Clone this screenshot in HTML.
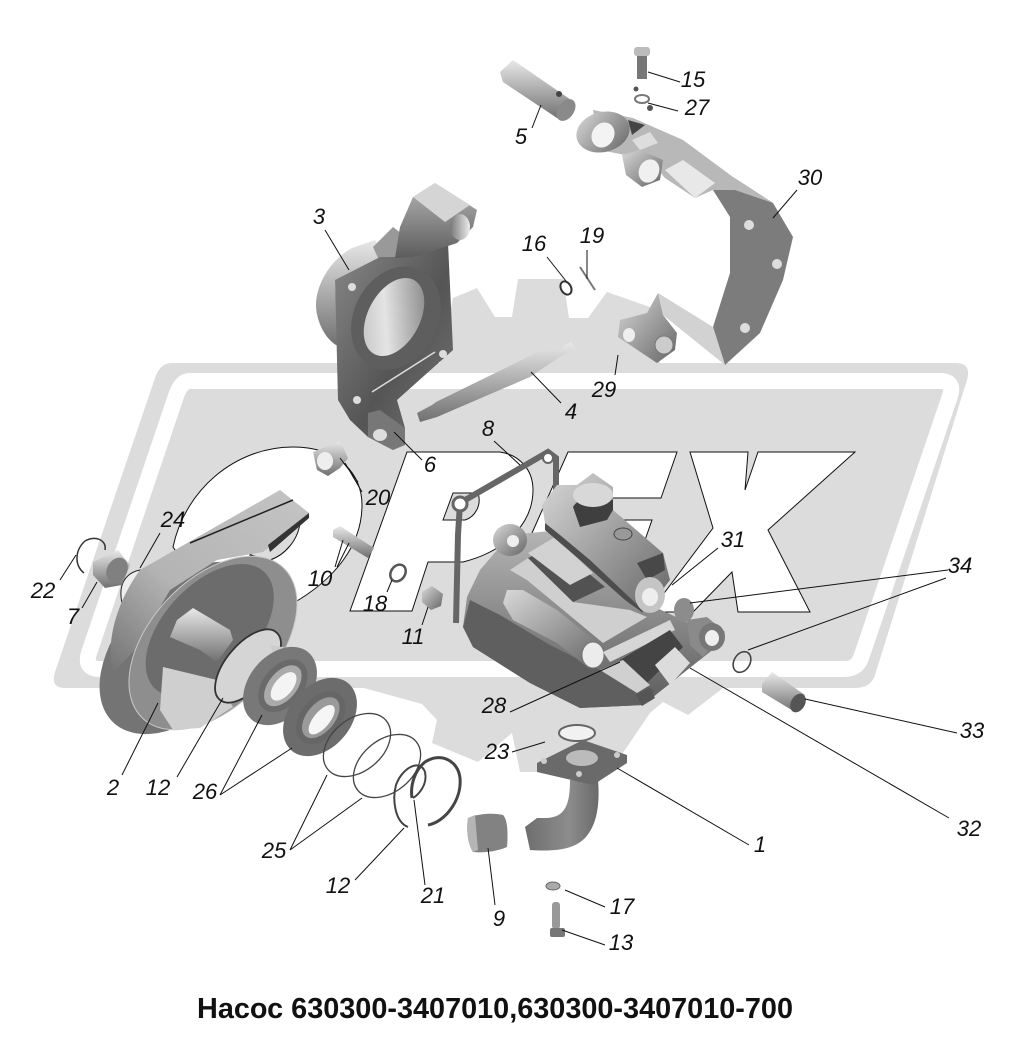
<!DOCTYPE html>
<html><head><meta charset="utf-8">
<style>html,body{margin:0;padding:0;background:#fff;width:1020px;height:1051px;overflow:hidden}svg{display:block}
text{font-family:"Liberation Sans",sans-serif;font-style:italic;font-size:22px;fill:#111;text-anchor:middle}
.t{font-style:normal;font-weight:bold;font-size:29px;text-anchor:start}
.l{stroke:#111;stroke-width:1;fill:none}</style></head><body>
<svg width="1020" height="1051" viewBox="0 0 1020 1051" xmlns="http://www.w3.org/2000/svg">
<defs>
<linearGradient id="a" x1="0" y1="0" x2="1" y2="1"><stop offset="0" stop-color="#d8d8d8"/><stop offset="1" stop-color="#666"/></linearGradient>
<linearGradient id="b" x1="0" y1="1" x2="1" y2="0"><stop offset="0" stop-color="#555"/><stop offset="1" stop-color="#ddd"/></linearGradient>
<linearGradient id="c" x1="0" y1="0" x2="0" y2="1"><stop offset="0" stop-color="#e8e8e8"/><stop offset="1" stop-color="#707070"/></linearGradient>
<linearGradient id="d" x1="0" y1="0" x2="1" y2="0"><stop offset="0" stop-color="#777"/><stop offset="1" stop-color="#ededed"/></linearGradient>
<linearGradient id="e" x1="0" y1="0" x2="1" y2="1"><stop offset="0" stop-color="#888"/><stop offset=".55" stop-color="#555"/><stop offset="1" stop-color="#777"/></linearGradient>
<linearGradient id="f" x1="0" y1="0" x2="0" y2="1"><stop offset="0" stop-color="#b5b5b5"/><stop offset="1" stop-color="#5c5c5c"/></linearGradient>
<linearGradient id="g" x1="1" y1="0" x2="0" y2="1"><stop offset="0" stop-color="#777"/><stop offset=".6" stop-color="#e4e4e4"/><stop offset="1" stop-color="#bbb"/></linearGradient>
<linearGradient id="h" x1="1" y1="0" x2="0" y2="1"><stop offset="0" stop-color="#c4c4c4"/><stop offset=".6" stop-color="#b4b4b4"/><stop offset="1" stop-color="#747474"/></linearGradient>
<linearGradient id="i" x1="0" y1="0" x2="1" y2="0"><stop offset="0" stop-color="#6e6e6e"/><stop offset=".6" stop-color="#8c8c8c"/><stop offset="1" stop-color="#6a6a6a"/></linearGradient>
</defs>
<!-- watermark -->
<g fill="#dcdcdc">
<path d="M453 298L477 288L495 317H512L518 279H563L569 318H588L607 292L650 307L660 363H440Z"/>
<path d="M353 685L422 704L437 720L432 743L478 762L512 733L520 772L610 772L650 713L663 702L688 715L723 688Z"/>
<path d="M172 363H955Q972 363 967 380L875 675Q871 688 855 688H65Q50 688 55 672L155 378Q160 363 172 363Z"/>
</g>
<path d="M190 381H940Q955 381 950 396L862 655Q858 669 845 669H100Q84 669 89 653L176 396Q181 381 190 381Z" fill="none" stroke="#fff" stroke-width="16"/>
<!-- letters -->
<g fill="#fff" stroke="#111" stroke-width="1">
<path d="M173 547C185 490 235 447 293 447C340 447 362 475 362 505C362 545 335 580 290 605L210 600Z"/>
<path d="M407 452H500C520 455 533 470 533 490C533 520 510 550 463 562H428L412 611H350Z"/>
<path d="M568 452H677L661 498H617L560 498L600 520H652L638 560H520Z"/>
<path d="M690 452H748L745 490L758 452H855L768 530L810 612H738L732 572L693 612H650L713 528Z"/>
</g>
<path d="M443 520L453 493H478C482 505 475 517 465 520Z" fill="#dcdcdc" stroke="#111" stroke-width="1"/>
<path d="M300 523C298 540 285 555 270 560L250 555L295 520Z" fill="#dcdcdc" stroke="#111" stroke-width="1"/>
<path d="M140 570C125 573 118 585 122 603L135 600Z" fill="#eee" stroke="#222" stroke-width="1"/>
<!-- rear cover -->
<g transform="rotate(-47 183 648)"><ellipse cx="183" cy="648" rx="102" ry="63" fill="#747474"/></g>
<path d="M140 570L280 490L309 513L308 518L263 552L217 560L170 590L135 650L113 672C105 640 118 600 140 570Z" fill="url(#h)"/>
<path d="M190 543L293 500" stroke="#222" stroke-width="1.5" fill="none"/>
<path d="M268 545L309 513V518L270 552Z" fill="#333"/>
<g transform="rotate(-47 213 643)">
<ellipse cx="213" cy="643" rx="103" ry="63" fill="#8e8e8e" stroke="#c8c8c8" stroke-width="1"/>
<ellipse cx="220" cy="632" rx="80" ry="46" fill="#6c6c6c"/>
</g>
<path d="M163 667L217 680L233 707L200 728L173 730L160 710Z" fill="#cfcfcf"/>
<path d="M177 620L193 608L230 630L233 640L217 662L200 650L170 637Z" fill="url(#c)"/>
<!-- bushing, spring -->
<path d="M93 562L118 550L130 565L122 585L105 588L93 575Z" fill="url(#c)"/><ellipse cx="117" cy="570" rx="10" ry="13" transform="rotate(30 117 570)" fill="#808080"/>
<path d="M84 573C74 565 75 550 85 541C95 535 107 540 105 550" fill="none" stroke="#333" stroke-width="1.5"/>
<!-- ring 12, bearings -->
<ellipse cx="248" cy="666" rx="44" ry="22" transform="rotate(-50 248 666)" fill="#d5d5d5" stroke="#333" stroke-width="1.8"/>
<path d="M270 645L300 650L317 672L300 690L280 670Z" fill="#ccc"/>
<g transform="rotate(-50 280 686)"><ellipse cx="280" cy="686" rx="44" ry="31" fill="#787878"/><ellipse cx="282" cy="688" rx="30" ry="20" fill="#6a6a6a"/><ellipse cx="282" cy="688" rx="24" ry="14" fill="#aaa"/><ellipse cx="282" cy="689" rx="17" ry="9" fill="#f4f4f4"/></g>
<g transform="rotate(-50 320 717)"><ellipse cx="320" cy="717" rx="44" ry="31" fill="#6c6c6c"/><ellipse cx="320" cy="718" rx="30" ry="20" fill="#666"/><ellipse cx="320" cy="718" rx="24" ry="14" fill="#9a9a9a"/><ellipse cx="319" cy="720" rx="18" ry="8" fill="#f6f6f6"/></g>
<!-- rings -->
<g fill="none" stroke="#444" stroke-width="1.3">
<ellipse cx="357" cy="745" rx="38" ry="26" transform="rotate(-40 357 745)"/>
<ellipse cx="387" cy="766" rx="38" ry="26" transform="rotate(-40 387 766)"/>
</g>
<path d="M408 827C395 822 392 800 396 785C402 768 420 758 425 772C428 785 418 795 413 798" fill="none" stroke="#444" stroke-width="2"/>
<path d="M428 825C445 822 462 800 460 778C458 760 440 752 425 762C415 770 410 785 412 798" fill="none" stroke="#444" stroke-width="3"/>
<!-- bracket 3 -->
<path d="M338 346C325 340 316 320 316 305C316 285 330 260 352 248L375 240L385 258L335 282Z" fill="url(#c)"/>
<path d="M373 247L393 227L410 240L400 258H378Z" fill="#999"/>
<path d="M335 280L380 257L415 257L448 243L453 350L397 400L405 428L393 450L368 437L350 420L338 400Z" fill="url(#e)"/>
<path d="M400 227L413 197L435 183L477 210L473 227L457 243L415 257L395 258Z" fill="url(#f)"/>
<path d="M413 197L435 183L470 205L445 222Z" fill="#d5d5d5"/>
<ellipse cx="460" cy="227" rx="10" ry="13" fill="url(#d)"/>
<ellipse cx="396" cy="318" rx="42" ry="54" transform="rotate(28 396 318)" fill="#5e5e5e"/>
<ellipse cx="394" cy="317" rx="26" ry="42" transform="rotate(28 394 317)" fill="url(#g)"/>
<circle cx="352" cy="287" r="4" fill="#ddd"/><circle cx="443" cy="354" r="4" fill="#ddd"/><circle cx="357" cy="400" r="4" fill="#ddd"/>
<path d="M372 392L435 352" stroke="#ddd" stroke-width="1.5"/>
<path d="M368 413L380 410L405 428L405 445L393 450L368 437Z" fill="#777"/><ellipse cx="380" cy="435" rx="7" ry="6" fill="#ddd"/>
<!-- pin 5 -->
<path d="M500 72L513 60L574 102L560 120L503 82Z" fill="url(#c)"/><ellipse cx="566" cy="110" rx="8" ry="12" transform="rotate(35 566 110)" fill="#8a8a8a"/>
<circle cx="559" cy="94" r="3" fill="#444"/>
<!-- bolt 15, washer 27 -->
<rect x="637" y="55" width="10" height="24" fill="#777"/><rect x="634" y="47" width="16" height="9" rx="3" fill="#bbb"/>
<ellipse cx="642" cy="99" rx="7" ry="4" fill="none" stroke="#777" stroke-width="2"/><circle cx="636" cy="89" r="2.5" fill="#555"/><circle cx="650" cy="108" r="3" fill="#555"/>
<!-- bracket 30 -->
<path d="M733 177L773 203L793 237L783 280L760 333L725 365L713 327L730 273L730 217L713 190Z" fill="#7c7c7c"/>
<path d="M593 110L633 118L683 140L733 177L773 203L735 190L713 190L695 198L665 178L650 160L625 155L600 150Z" fill="#b8b8b8"/>
<ellipse cx="603" cy="132" rx="27" ry="20" transform="rotate(-15 603 132)" fill="url(#a)"/><ellipse cx="603" cy="135" rx="11" ry="13" transform="rotate(30 603 135)" fill="#f3f3f3"/>
<path d="M622 155L640 150L663 160L660 180L642 187L626 175Z" fill="url(#a)"/><ellipse cx="649" cy="171" rx="10" ry="12" transform="rotate(25 649 171)" fill="#f0f0f0"/>
<path d="M665 170L683 160L715 183L695 198Z" fill="#e8e8e8"/><path d="M632 140L650 132L658 143L640 150Z" fill="#ddd"/>
<path d="M628 120L645 125L632 135Z" fill="#444"/>
<circle cx="749" cy="225" r="5" fill="#ddd"/><circle cx="777" cy="264" r="5" fill="#ddd"/><circle cx="745" cy="328" r="5" fill="#ddd"/>
<path d="M658 293L713 327L725 365L663 315Z" fill="#d2d2d2"/>
<path d="M620 320L647 313L658 293L663 315L677 333L675 350L657 363L618 337Z" fill="url(#a)"/>
<ellipse cx="629" cy="335" rx="6" ry="7" fill="#eee"/><ellipse cx="664" cy="345" rx="9" ry="9" fill="#ccc" stroke="#777"/>
<!-- 16 19 4 -->
<ellipse cx="566" cy="288" rx="5" ry="7" transform="rotate(-30 566 288)" fill="#fff" stroke="#333" stroke-width="2"/>
<path d="M580 267L595 290" stroke="#777" stroke-width="2"/>
<path d="M417 413L432 405L436 402L542 350L555 351L571 342L576 348L558 358L530 377L437 417L420 422Z" fill="url(#c)"/>
<!-- nut pin ring nut -->
<path d="M313 452L340 441L348 458L340 468L328 476L317 470Z" fill="url(#c)"/><ellipse cx="325" cy="461" rx="8" ry="9" fill="#eee"/>
<path d="M333 530L340 526L374 548L368 558L333 537Z" fill="url(#c)"/>
<ellipse cx="398" cy="573" rx="7" ry="9" transform="rotate(35 398 573)" fill="#fff" stroke="#555" stroke-width="2.5"/>
<path d="M422 592L432 586L443 594L441 606L431 610L422 602Z" fill="url(#a)"/>
<!-- gasket -->
<path d="M460 503L548 452L556 458V495M460 503L458 535L456 623" fill="none" stroke="#666" stroke-width="6"/>
<ellipse cx="460" cy="504" rx="7" ry="7" fill="#fff" stroke="#666" stroke-width="3"/><circle cx="548" cy="458" r="5" fill="#fff" stroke="#666" stroke-width="2"/>
<!-- pump body -->
<path d="M467 597L480 570L510 535L560 530L640 600L725 640L643 705L580 708L530 683L473 647L463 627Z" fill="url(#f)"/>
<path d="M463 627L473 647L530 683L580 708L643 705L655 690L600 670L550 645L500 615L470 600Z" fill="#5f5f5f"/>
<!-- plate -->
<path d="M510 570L528 558L573 602L630 610L647 617L603 643L527 580Z" fill="#cfcfcf"/>
<path d="M528 558L573 602L605 587L593 577L555 545Z" fill="#525252"/>
<path d="M528 553L555 537L593 573L570 585Z" fill="#d2d2d2"/>
<!-- lug -->
<ellipse cx="510" cy="540" rx="17" ry="16" fill="url(#a)"/><circle cx="513" cy="541" r="6" fill="#eee"/>
<!-- valve cylinder -->
<path d="M545 523L575 527L640 600L643 613L625 600L580 560L545 530Z" fill="#4d4d4d"/>
<path d="M542 505L557 485L577 485L593 473L613 487L613 510L663 553L670 580L645 612L590 560L560 535L545 523Z" fill="url(#a)"/>
<path d="M573 507C580 495 605 490 613 500L613 510L607 520L580 527Z" fill="#3f3f3f"/>
<ellipse cx="593" cy="495" rx="20" ry="12" fill="#d8d8d8"/>
<ellipse cx="623" cy="534" rx="9" ry="6" fill="#999" stroke="#444"/>
<path d="M637 563L663 553L665 570L647 580Z" fill="#484848"/>
<ellipse cx="650" cy="595" rx="15" ry="18" fill="#c5c5c5"/><ellipse cx="650" cy="597" rx="8" ry="9" fill="#eee"/>
<ellipse cx="684" cy="610" rx="10" ry="12" fill="#8c8c8c"/>
<!-- left stepped tube -->
<path d="M503 603L507 590L523 590L557 610L603 647L587 667L557 643L513 620Z" fill="url(#a)"/>
<ellipse cx="593" cy="655" rx="11" ry="13" fill="#ececec" stroke="#777"/>
<!-- lower bar, tubes -->
<path d="M603 652L670 620L675 630L610 662Z" fill="#d6d6d6"/>
<path d="M620 660L670 630L683 647L643 687Z" fill="#444"/>
<path d="M600 670L623 660L650 685L637 693Z" fill="#d0d0d0"/>
<path d="M655 665L675 647L690 663L670 685Z" fill="#dcdcdc"/>
<path d="M636 695L650 688L655 698L642 706Z" fill="#555"/>
<path d="M687 620L707 617L725 632L703 657L690 645Z" fill="#8a8a8a"/>
<ellipse cx="712" cy="637" rx="13" ry="14" fill="#777"/><ellipse cx="712" cy="638" rx="7" ry="8" fill="#eee"/>
<!-- small parts bottom right -->
<ellipse cx="742" cy="662" rx="8" ry="11" transform="rotate(30 742 662)" fill="none" stroke="#444" stroke-width="1.6"/>
<path d="M762 684L772 672L805 695L795 712L762 692Z" fill="url(#c)"/><ellipse cx="798" cy="703" rx="7" ry="10" transform="rotate(30 798 703)" fill="#555"/>
<ellipse cx="577" cy="733" rx="18" ry="8" fill="#fff" fill-opacity=".6" stroke="#666" stroke-width="2"/>
<!-- elbow -->
<path d="M570 780C570 805 565 818 545 818L537 818L525 827L530 850C560 852 575 848 585 838C597 825 600 805 598 780Z" fill="url(#i)"/>
<path d="M537 763L583 740L627 755V763L593 785L537 772Z" fill="#6a6a6a"/><ellipse cx="582" cy="758" rx="16" ry="8" fill="#bbb"/>
<circle cx="544" cy="761" r="3" fill="#ccc"/><circle cx="617" cy="755" r="3" fill="#ccc"/><circle cx="579" cy="774" r="3" fill="#ccc"/>
<!-- bushing 9 -->
<path d="M468 818C480 813 495 813 503 815C508 820 508 835 507 847C495 852 483 853 473 852C468 845 466 830 468 818Z" fill="#828282"/>
<path d="M468 818L475 815L478 850L473 852C468 845 466 830 468 818Z" fill="#b5b5b5"/>
<ellipse cx="553" cy="886" rx="7" ry="4" fill="#aaa" stroke="#666"/>
<rect x="552" y="902" width="8" height="27" rx="3" fill="#999"/><rect x="550" y="928" width="15" height="9" rx="2" fill="#777"/>
<!-- leader lines -->
<g class="l">
<path d="M648 72L680 82M648 103L678 111M541 105L532 128M773 218L797 190M325 230L349 270M547 257L566 281M587 250V279M618 355L615 375M531 372L561 403M394 432L422 460M494 441L520 465M345 463L362 492M340 458L358 482M160 533L140 568M60 580L76 555M82 608L97 582M335 567L343 540M337 567L349 543M387 592L392 580M422 625L428 607M718 548L672 585M948 570L690 603M946 578L748 650M957 733L805 699M949 818L690 668M510 712L620 662M512 752L545 742M749 845L617 768M177 777L223 698M122 775L158 703M220 795L262 715M220 795L292 748M290 850L327 775M290 850L362 798M355 880L404 828M425 885L414 800M495 905L488 848M605 907L565 890M605 945L562 930"/>
</g>
<!-- labels -->
<g>
<text x="693" y="87">15</text><text x="697" y="115">27</text><text x="521" y="144">5</text><text x="810" y="185">30</text>
<text x="319" y="224">3</text><text x="534" y="251">16</text><text x="592" y="243">19</text><text x="604" y="397">29</text>
<text x="571" y="419">4</text><text x="430" y="472">6</text><text x="488" y="436">8</text><text x="378" y="505">20</text>
<text x="173" y="527">24</text><text x="733" y="547">31</text><text x="960" y="573">34</text><text x="43" y="598">22</text>
<text x="73" y="624">7</text><text x="320" y="586">10</text><text x="375" y="611">18</text><text x="413" y="644">11</text>
<text x="494" y="713">28</text><text x="972" y="738">33</text><text x="158" y="795">12</text><text x="113" y="795">2</text>
<text x="205" y="799">26</text><text x="497" y="759">23</text><text x="969" y="836">32</text><text x="760" y="852">1</text>
<text x="274" y="858">25</text><text x="338" y="893">12</text><text x="433" y="903">21</text><text x="499" y="926">9</text>
<text x="622" y="914">17</text><text x="621" y="950">13</text>
<text class="t" x="197" y="1018" textLength="596" lengthAdjust="spacingAndGlyphs">Насос 630300-3407010,630300-3407010-700</text>
</g>
</svg>
</body></html>
